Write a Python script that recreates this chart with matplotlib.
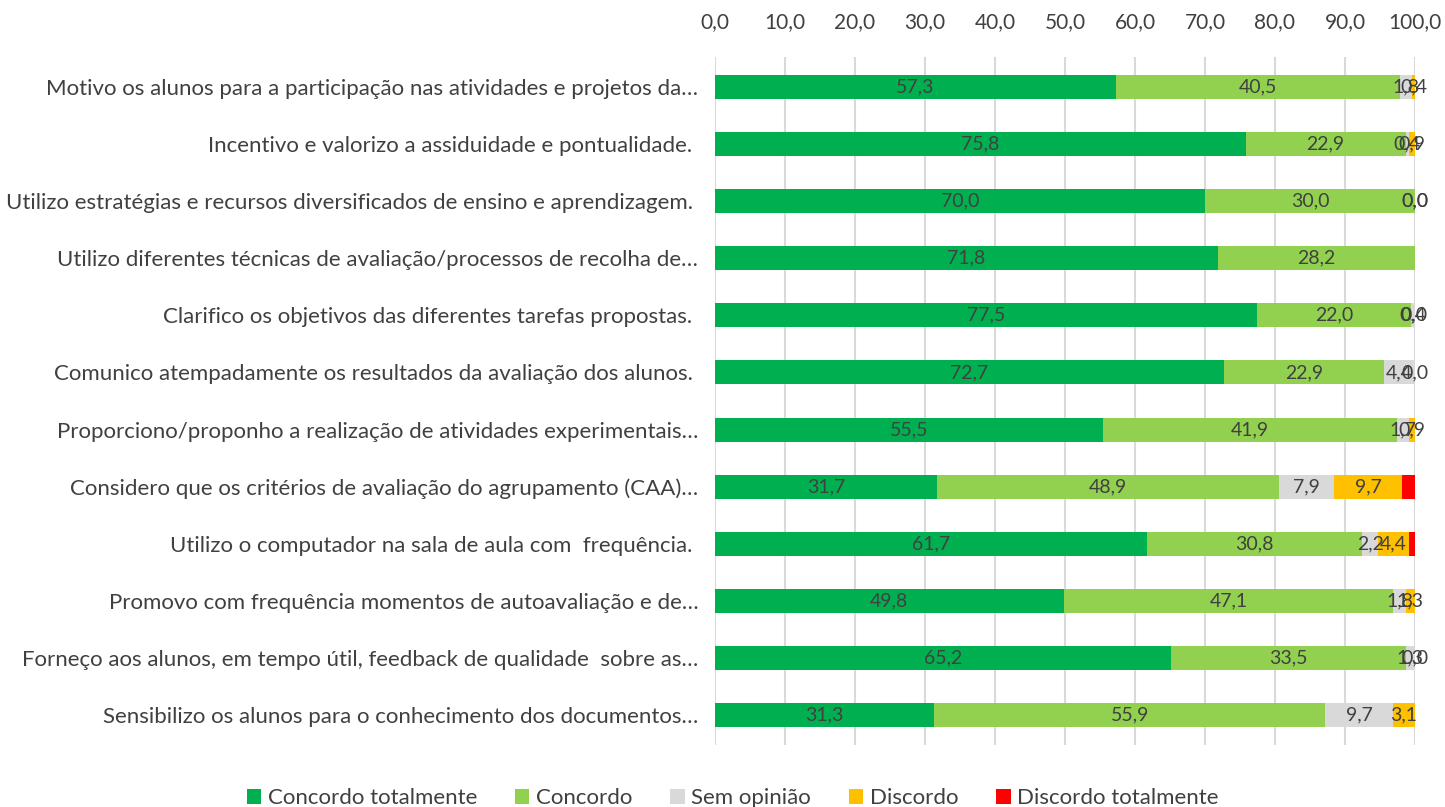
import matplotlib
matplotlib.use("Agg")
import matplotlib.pyplot as plt
from matplotlib.patches import Patch
import numpy as np

categories = [
    "Motivo os alunos para a participação nas atividades e projetos da…",
    "Incentivo e valorizo a assiduidade e pontualidade. ",
    "Utilizo estratégias e recursos diversificados de ensino e aprendizagem. ",
    "Utilizo diferentes técnicas de avaliação/processos de recolha de…",
    "Clarifico os objetivos das diferentes tarefas propostas. ",
    "Comunico atempadamente os resultados da avaliação dos alunos. ",
    "Proporciono/proponho a realização de atividades experimentais…",
    "Considero que os critérios de avaliação do agrupamento (CAA)…",
    "Utilizo o computador na sala de aula com  frequência. ",
    "Promovo com frequência momentos de autoavaliação e de…",
    "Forneço aos alunos, em tempo útil, feedback de qualidade  sobre as…",
    "Sensibilizo os alunos para o conhecimento dos documentos…",
]

nan = np.nan
concordo_totalmente = [57.3, 75.8, 70.0, 71.8, 77.5, 72.7, 55.5, 31.7, 61.7, 49.8, 65.2, 31.3]
concordo = [40.5, 22.9, 30.0, 28.2, 22.0, 22.9, 41.9, 48.9, 30.8, 47.1, 33.5, 55.9]
sem_opiniao = [1.8, 0.4, 0.0, nan, 0.4, 4.4, 1.7, 7.9, 2.2, 1.8, 1.3, 9.7]
discordo = [0.4, 0.9, 0.0, nan, 0.0, 0.0, 0.9, 9.7, 4.4, 1.3, 0.0, 3.1]
discordo_totalmente = [nan, nan, nan, nan, nan, nan, nan, 1.8, 0.9, nan, nan, nan]

series_names = ["Concordo totalmente", "Concordo", "Sem opinião", "Discordo", "Discordo totalmente"]
series = [concordo_totalmente, concordo, sem_opiniao, discordo, discordo_totalmente]
colors = ["#00B050", "#92D050", "#D9D9D9", "#FFC000", "#FF0000"]
show_labels = [True, True, True, True, False]

xticks = [0, 10, 20, 30, 40, 50, 60, 70, 80, 90, 100]

plt.rcParams['font.family'] = ['Lato', 'DejaVu Sans']
txt = "#404040"

fig = plt.figure(figsize=(14.45, 8.07), dpi=100)
ax = fig.add_axes([0.4948, 0.0768, 0.4844, 0.8526])

y = np.arange(len(categories))
left = np.zeros(len(categories))
for name, vals, col, lab in zip(series_names, series, colors, show_labels):
    v = np.array(vals, dtype=float)
    w = np.nan_to_num(v)
    ax.barh(y, w, left=left, height=0.42, color=col, label=name, zorder=2)
    if lab:
        for i in range(len(v)):
            if not np.isnan(v[i]):
                ax.text(left[i] + w[i] / 2, y[i], f"{v[i]:.1f}".replace(".", ","),
                        ha="center", va="center", fontsize=14, color=txt, zorder=3)
    left = left + w

ax.set_xlim(0, 100)
ax.set_ylim(len(categories) - 0.5 + 0.02, -0.5 - 0.02)
ax.set_xticks(xticks)
ax.set_xticklabels([f"{t:.1f}".replace(".", ",") for t in xticks], fontsize=15, color=txt)
ax.xaxis.tick_top()
ax.tick_params(axis="x", length=0, pad=18)
ax.set_yticks(y)
ax.set_yticklabels(categories, fontsize=16, color=txt)
ax.tick_params(axis="y", length=0, pad=12)
ax.grid(axis="x", color="#D9D9D9", linewidth=1.5, zorder=0)
for s in ax.spines.values():
    s.set_visible(False)

handles = [Patch(facecolor=c, edgecolor="none") for c in colors]
fig.legend(handles, series_names, loc="lower center", bbox_to_anchor=(0.507, -0.026),
           ncol=5, frameon=False, fontsize=16, handlelength=0.65, handleheight=0.65,
           handletextpad=0.3, columnspacing=1.7, labelcolor=txt)

fig.savefig("out.png", dpi=100)
